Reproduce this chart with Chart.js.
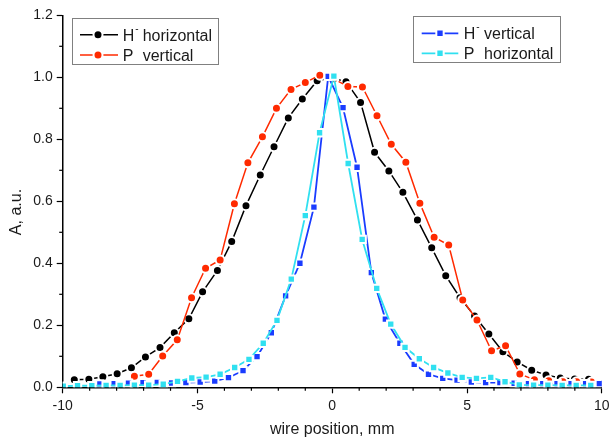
<!DOCTYPE html>
<html><head><meta charset="utf-8">
<script src="https://cdn.jsdelivr.net/npm/chart.js@4.4.1/dist/chart.umd.min.js"></script>
<style>html,body{margin:0;padding:0;background:#fff;overflow:hidden}#wrap{width:609px;height:441px;position:relative}</style>
</head><body><div id="wrap"><canvas id="c" width="609" height="441"></canvas></div>
<script>
const FONT = '"Liberation Sans", Arial, Helvetica, sans-serif';

// axis ticks
const xTickValues = [-10, -5, 0, 5, 10];
const xMinorTicks = [-9,-8,-7,-6,-4,-3,-2,-1,1,2,3,4,6,7,8,9];
const yTickValues = [0, 0.2, 0.4, 0.6, 0.8, 1.0, 1.2];
const yMinorTicks = [0.1, 0.3, 0.5, 0.7, 0.9, 1.1];

// legend texts
const legendMain = ['H', 'P', 'H', 'P'];
const legendSup  = ['-', '', '-', ''];
const legendRest = ['horizontal', 'vertical', 'vertical', 'horizontal'];

// H- horizontal (black)
const hHorX = [-9.57,-9.03,-8.51,-7.98,-7.45,-6.93,-6.39,-5.86,-5.32,-4.81,-4.26,-3.73,-3.20,-2.67,-2.16,-1.63,-1.11,-0.56,0.0,0.51,1.05,1.57,2.10,2.62,3.16,3.69,4.21,4.74,5.28,5.81,6.33,6.86,7.40,7.93,8.46,8.99,9.51];
const hHorY = [0.024,0.026,0.034,0.044,0.063,0.098,0.128,0.176,0.221,0.308,0.377,0.470,0.586,0.685,0.776,0.869,0.930,0.989,0.998,0.986,0.919,0.758,0.698,0.629,0.540,0.450,0.360,0.289,0.230,0.172,0.115,0.082,0.055,0.040,0.030,0.027,0.026];

// P vertical (red)
const pVerX = [-7.34,-6.81,-6.29,-5.75,-5.22,-4.70,-4.16,-3.63,-3.13,-2.59,-2.07,-1.53,-1.00,-0.46,0.06,0.58,1.12,1.66,2.19,2.73,3.25,3.78,4.32,4.84,5.37,5.91,6.43,6.96,7.50,8.03,8.56,9.07,9.62];
const pVerY = [0.036,0.042,0.101,0.153,0.289,0.384,0.411,0.592,0.724,0.808,0.900,0.961,0.983,1.007,0.995,0.970,0.969,0.876,0.784,0.726,0.594,0.484,0.459,0.282,0.217,0.118,0.134,0.043,0.024,0.021,0.018,0.018,0.017];

// H- vertical (blue)
const hVerX = [-8.62,-8.09,-7.56,-7.02,-6.49,-5.96,-5.43,-4.90,-4.36,-3.85,-3.31,-2.79,-2.26,-1.73,-1.20,-0.68,-0.15,0.40,0.92,1.45,1.97,2.51,3.04,3.57,4.10,4.63,5.16,5.69,6.22,6.75,7.28,7.81,8.34,8.86,9.40,9.91];
const hVerY = [0.011,0.012,0.013,0.015,0.016,0.014,0.015,0.017,0.020,0.031,0.054,0.099,0.176,0.295,0.400,0.581,1.003,0.902,0.710,0.370,0.220,0.142,0.074,0.042,0.029,0.023,0.017,0.015,0.015,0.013,0.012,0.012,0.012,0.012,0.012,0.012];

// P horizontal (cyan)
const pHorX = [-9.98,-9.45,-8.92,-8.39,-7.87,-7.34,-6.81,-6.27,-5.74,-5.21,-4.68,-4.16,-3.62,-3.09,-2.56,-2.05,-1.52,-1.00,-0.47,0.06,0.59,1.11,1.65,2.17,2.70,3.23,3.76,4.29,4.82,5.35,5.88,6.41,6.94,7.47,8.00,8.53,9.05,9.59];
const pHorY = [0.004,0.005,0.005,0.006,0.006,0.007,0.007,0.010,0.019,0.030,0.033,0.042,0.064,0.090,0.142,0.216,0.349,0.554,0.821,1.004,0.722,0.477,0.319,0.204,0.129,0.092,0.064,0.046,0.032,0.029,0.032,0.018,0.008,0.007,0.007,0.006,0.006,0.006];

const pts = (xs, ys) => xs.map((x, i) => ({x: x, y: ys[i]}));
const label = i => legendMain[i] + (legendSup[i] ? '\u207B' : '') + ' ' + legendRest[i];

const styles = [
  {color:'#000000', shape:'circle', lw:1.5, r:4.5, order:4},
  {color:'#ff2a00', shape:'circle', lw:1.5, r:4.5, order:3},
  {color:'#1a3cff', shape:'rect',   lw:1.8, r:5.2, order:2},
  {color:'#30e0f0', shape:'rect',   lw:1.8, r:5.2, order:1}
];
const seriesData = [pts(hHorX,hHorY), pts(pVerX,pVerY), pts(hVerX,hVerY), pts(pHorX,pHorY)];

const datasets = seriesData.map((d, i) => ({
  label: label(i),
  data: d,
  showLine: true,
  borderColor: styles[i].color,
  backgroundColor: styles[i].color,
  borderWidth: styles[i].lw,
  pointStyle: styles[i].shape,
  pointRadius: styles[i].r,
  pointBorderColor: '#ffffff',
  pointBorderWidth: 2,
  pointBackgroundColor: styles[i].color,
  order: styles[i].order,
  tension: 0
}));

function drawMarker(ctx, shape, x, y, r, color) {
  ctx.save();
  ctx.fillStyle = color;
  ctx.strokeStyle = '#fff';
  ctx.lineWidth = 2;
  ctx.beginPath();
  if (shape === 'circle') {
    ctx.arc(x, y, r, 0, Math.PI * 2);
  } else {
    const s = Math.SQRT1_2 * r;
    ctx.rect(x - s, y - s, 2 * s, 2 * s);
  }
  ctx.fill();
  ctx.stroke();
  ctx.restore();
}

const decor = {
  id: 'decor',
  afterDraw(chart) {
    const ctx = chart.ctx;
    const xs = chart.scales.x, ys = chart.scales.y;
    const ca = chart.chartArea;
    ctx.save();
    // minor ticks
    ctx.strokeStyle = '#000';
    ctx.lineWidth = 1.2;
    xMinorTicks.forEach(v => {
      const px = xs.getPixelForValue(v);
      ctx.beginPath(); ctx.moveTo(px, ca.bottom); ctx.lineTo(px, ca.bottom + 3.5); ctx.stroke();
    });
    yMinorTicks.forEach(v => {
      const py = ys.getPixelForValue(v);
      ctx.beginPath(); ctx.moveTo(ca.left, py); ctx.lineTo(ca.left - 3.5, py); ctx.stroke();
    });
    // y title
    ctx.save();
    ctx.translate(17, 212);
    ctx.rotate(-Math.PI / 2);
    ctx.fillStyle = '#1a1a1a';
    ctx.font = '16px ' + FONT;
    ctx.textAlign = 'center';
    ctx.textBaseline = 'middle';
    ctx.fillText('A, a.u.', 0, 0);
    ctx.restore();
    // legends
    const boxes = [
      {x:72.5, y:18.5, w:146, h:46, l1:80, l2:118, mk:98, tx:122.7, rx:142.7, rows:[0,1], ly:[34.7,55], by:[40.7,61.3]},
      {x:413.5, y:16.5, w:147, h:46, l1:421.7, l2:458.3, mk:440, tx:463.7, rx:484, rows:[2,3], ly:[33.3,53.3], by:[38.9,59.1]}
    ];
    boxes.forEach(b => {
      ctx.strokeStyle = '#808080';
      ctx.lineWidth = 1;
      ctx.strokeRect(b.x, b.y, b.w, b.h);
      b.rows.forEach((si, k) => {
        const st = styles[si];
        ctx.strokeStyle = st.color;
        ctx.lineWidth = st.lw;
        ctx.beginPath(); ctx.moveTo(b.l1, b.ly[k]); ctx.lineTo(b.l2, b.ly[k]); ctx.stroke();
        drawMarker(ctx, st.shape, b.mk, b.ly[k], st.r, st.color);
        ctx.fillStyle = '#1a1a1a';
        ctx.textAlign = 'left';
        ctx.textBaseline = 'alphabetic';
        ctx.font = '16px ' + FONT;
        ctx.fillText(legendMain[si], b.tx, b.by[k]);
        if (legendSup[si]) {
          const w = ctx.measureText(legendMain[si]).width;
          ctx.font = '10px ' + FONT;
          ctx.fillText(legendSup[si], b.tx + w + 1, b.by[k] - 9);
          ctx.font = '16px ' + FONT;
        }
        ctx.fillText(legendRest[si], b.rx, b.by[k]);
      });
    });
    ctx.restore();
  }
};

new Chart(document.getElementById('c').getContext('2d'), {
  type: 'scatter',
  data: {datasets: datasets},
  options: {
    responsive: false,
    animation: false,
    devicePixelRatio: 1,
    layout: {padding: {top: 15.3, right: 5, left: 0, bottom: 0}},
    plugins: {legend: {display: false}, tooltip: {enabled: false}},
    scales: {
      x: {
        type: 'linear', min: -10, max: 10,
        afterBuildTicks: s => { s.ticks = xTickValues.map(v => ({value: v})); },
        ticks: {font: {family: FONT, size: 14}, color: '#1a1a1a', padding: 4, maxRotation: 0, autoSkip: false, callback: v => String(v)},
        grid: {drawOnChartArea: false, drawTicks: true, tickLength: 6, tickColor: '#000', tickWidth: 1.2},
        border: {color: '#000', width: 1.5},
        title: {display: true, text: 'wire position, mm', font: {family: FONT, size: 16}, color: '#1a1a1a', padding: {top: 0, bottom: 2}},
        afterFit: s => { s.height = 53.7; s.paddingLeft = 0; s.paddingRight = 0; }
      },
      y: {
        type: 'linear', min: 0, max: 1.2,
        afterBuildTicks: s => { s.ticks = yTickValues.map(v => ({value: v})); },
        ticks: {font: {family: FONT, size: 14}, color: '#1a1a1a', padding: 4, autoSkip: false, callback: v => Number(v).toFixed(1)},
        grid: {drawOnChartArea: false, drawTicks: true, tickLength: 6, tickColor: '#000', tickWidth: 1.2},
        border: {color: '#000', width: 1.5},
        afterFit: s => { s.width = 62.7; s.paddingTop = 0; s.paddingBottom = 0; }
      }
    }
  },
  plugins: [decor]
});
</script>
</body></html>
